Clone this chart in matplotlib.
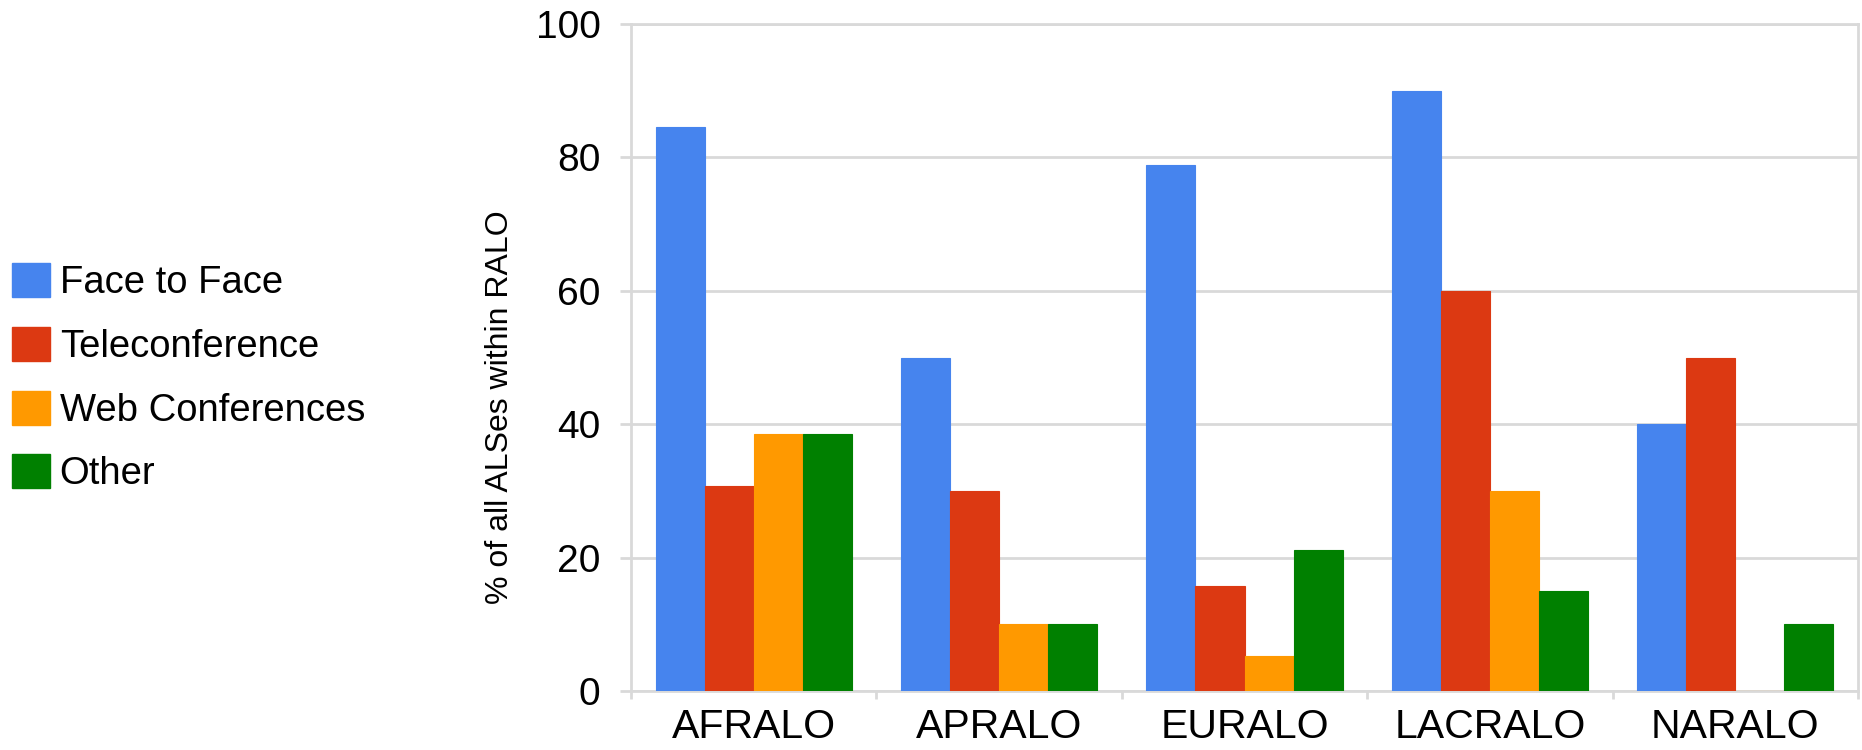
import numpy as np
import matplotlib
matplotlib.use('Agg')
import matplotlib.pyplot as plt
from matplotlib.patches import Patch

plt.rcParams['font.family'] = ['Liberation Sans', 'DejaVu Sans']

# Данные
ralos = ['AFRALO', 'APRALO', 'EURALO', 'LACRALO', 'NARALO']
series_names = ['Face to Face', 'Teleconference', 'Web Conferences', 'Other']
face_to_face = [84.6, 50.0, 78.9, 90.0, 40.0]
teleconference = [30.8, 30.0, 15.8, 60.0, 50.0]
web_conferences = [38.5, 10.0, 5.3, 30.0, 0.0]
other = [38.5, 10.0, 21.1, 15.0, 10.0]
colors = ['#4684EE', '#DC3912', '#FF9900', '#008000']

W, H = 1862, 750
fig = plt.figure(figsize=(W / 100, H / 100), dpi=100)
ax = fig.add_axes([631 / W, (H - 691) / H, 1227 / W, 667 / H])

grid_c = '#d9d9d9'
x = np.arange(len(ralos))
bw = 0.2
all_series = [face_to_face, teleconference, web_conferences, other]
for i, (vals, c) in enumerate(zip(all_series, colors)):
    ax.bar(x + (i - 1.5) * bw, vals, width=bw, color=c, zorder=3,
           edgecolor=c, linewidth=0.8)

ax.set_xlim(-0.5, len(ralos) - 0.5)
ax.set_ylim(0, 100)
ax.set_yticks(range(0, 101, 20))
ax.yaxis.grid(True, color=grid_c, linewidth=2, zorder=0)
ax.tick_params(axis='y', length=8, width=2, color=grid_c, pad=14,
               labelsize=28)
ax.set_xticks(x)
ax.set_xticklabels(ralos)
ax.tick_params(axis='x', length=0, pad=12, labelsize=29.5)
ax.set_xticks(np.arange(-0.5, len(ralos), 1.0), minor=True)
ax.tick_params(axis='x', which='minor', length=6, width=2, color=grid_c)
for s in ax.spines.values():
    s.set_color(grid_c)
    s.set_linewidth(2)

fig.text(500 / W, 1 - 407 / H, '% of all ALSes within RALO', rotation=90,
         ha='center', va='center', fontsize=23)

handles = [Patch(facecolor=c, edgecolor=c) for c in colors]
fig.legend(handles, series_names, loc='upper left',
           bbox_to_anchor=(12 / W, 1 - 263 / H), frameon=False,
           fontsize=27.5, handlelength=1.0, handleheight=1.0,
           handletextpad=0.25, labelspacing=0.67, borderpad=0,
           borderaxespad=0)

fig.savefig('out.png', dpi=100)
